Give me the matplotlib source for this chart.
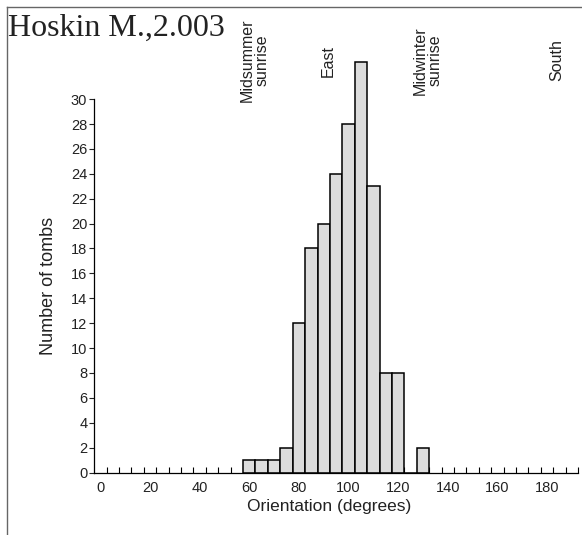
import numpy as np
import matplotlib
matplotlib.use("Agg")
import matplotlib.pyplot as plt
from matplotlib.lines import Line2D
from matplotlib.transforms import blended_transform_factory

plt.rcParams['font.family'] = ['Liberation Sans', 'DejaVu Sans']

# bin centres (degrees) and number of tombs in each 5 degree bin
orientation = [60, 65, 70, 75, 80, 85, 90, 95, 100, 105, 110, 115, 120, 125, 130]
tombs = [1, 1, 1, 2, 12, 18, 20, 24, 28, 33, 23, 8, 8, 0, 2]

# astronomical directions marked along the top
marks = ["Midsummer\nsunrise", "East", "Midwinter\nsunrise", "South"]
mark_deg = [62, 92, 132, 184]

xticks = [0, 20, 40, 60, 80, 100, 120, 140, 160, 180]
yticks = list(range(0, 31, 2))

fig = plt.figure(figsize=(5.82, 5.35), dpi=100)
ax = fig.add_axes([0.162, 0.1168, 0.831, 0.791])

ax.bar(orientation, tombs, width=5, color='#dcdcdc', edgecolor='black',
       linewidth=1.1, zorder=2)

ax.set_xlim(-2.5, 192.5)
ax.set_ylim(0, 34)

for s in ['top', 'right']:
    ax.spines[s].set_visible(False)
ax.spines['left'].set_bounds(0, 30)
ax.spines['left'].set_linewidth(0.9)
ax.spines['bottom'].set_linewidth(0.9)

ax.set_yticks(yticks)
ax.tick_params(axis='y', direction='out', length=3.5, width=0.8, pad=1.5,
               labelsize=10.5, colors='#222222')
ax.set_xticks(xticks)
ax.set_xticks(np.arange(2.5, 193, 5), minor=True)
ax.tick_params(axis='x', which='major', length=0, pad=6, labelsize=10.5,
               colors='#222222')
ax.tick_params(axis='x', which='minor', direction='in', length=4, width=0.8)

ax.set_xlabel('Orientation (degrees)', fontsize=12.5, color='#222222')
ax.xaxis.set_label_coords(0.486, -0.062)
ax.set_ylabel('Number of tombs', fontsize=13, color='#222222')
ax.yaxis.set_label_coords(-0.077, 15 / 34)

for lab, d in zip(marks, mark_deg):
    ax.text(d, 33.1, lab, rotation=90, ha='center', va='center',
            multialignment='center', linespacing=1.0, fontsize=11.5,
            color='#222222', clip_on=False)

fig.text(8 / 582, 1 - 36 / 535, 'Hoskin M.,2.003', family='Liberation Serif',
         fontsize=23, va='baseline', ha='left', color='#222222')

# picture frame on top and left
fig.add_artist(Line2D([6.5 / 582, 6.5 / 582], [0, 1 - 6.5 / 535],
                      transform=fig.transFigure, color='#666666', lw=1.0))
fig.add_artist(Line2D([6.5 / 582, 1], [1 - 6.5 / 535, 1 - 6.5 / 535],
                      transform=fig.transFigure, color='#666666', lw=1.0))

fig.savefig('out.png', dpi=100)
